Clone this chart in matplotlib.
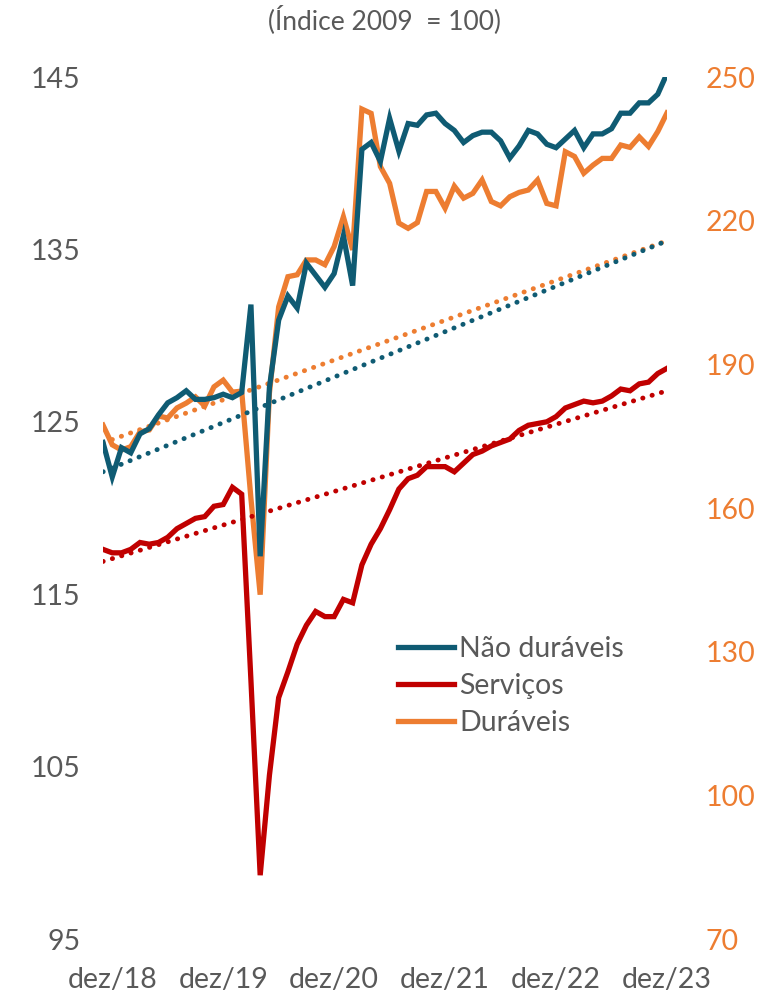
import numpy as np
import matplotlib
matplotlib.use("Agg")
import matplotlib.pyplot as plt
from matplotlib.lines import Line2D

plt.rcParams['font.family'] = ['Lato', 'DejaVu Sans']

# monthly index, nov/18 .. dez/23
nao_duraveis = [123.8, 121.8, 123.5, 123.2, 124.3, 124.6, 125.4, 126.1, 126.4, 126.8,
                126.3, 126.3, 126.4, 126.6, 126.4, 126.7, 131.8, 117.2, 127.0, 130.9,
                132.3, 131.6, 134.2, 133.5, 132.8, 133.6, 135.8, 132.9, 140.8, 141.2,
                140.1, 142.6, 140.7, 142.3, 142.2, 142.8, 142.9, 142.3, 141.9, 141.2,
                141.6, 141.8, 141.8, 141.3, 140.3, 141.0, 141.9, 141.7, 141.1, 140.9,
                141.4, 141.9, 140.9, 141.7, 141.7, 142.0, 142.9, 142.9, 143.5, 143.5,
                144.0, 145.2]
servicos = [117.6, 117.4, 117.4, 117.6, 118.0, 117.9, 118.0, 118.3, 118.8, 119.1,
            119.4, 119.5, 120.1, 120.2, 121.2, 120.8, 110.0, 98.7, 104.5, 109.0,
            110.5, 112.1, 113.2, 114.0, 113.7, 113.7, 114.7, 114.5, 116.7, 117.9,
            118.8, 119.9, 121.1, 121.7, 121.9, 122.4, 122.4, 122.4, 122.1, 122.6,
            123.1, 123.3, 123.6, 123.8, 124.0, 124.5, 124.8, 124.9, 125.0, 125.3,
            125.8, 126.0, 126.2, 126.1, 126.2, 126.5, 126.9, 126.8, 127.2, 127.3,
            127.8, 128.1]
duraveis = [177.3, 173.2, 172.1, 172.8, 175.9, 176.3, 179.2, 178.8, 180.9, 181.9,
            183.2, 181.3, 185.3, 186.7, 184.2, 184.4, 162.0, 141.9, 184.0, 202.0,
            208.3, 208.7, 211.8, 211.8, 210.8, 214.6, 220.8, 213.9, 243.3, 242.4,
            231.3, 227.8, 219.5, 218.4, 219.6, 226.1, 226.1, 222.6, 227.2, 224.7,
            225.7, 228.5, 224.0, 223.1, 225.0, 225.9, 226.4, 228.5, 223.6, 223.1,
            234.4, 233.4, 229.9, 231.6, 233.0, 233.0, 235.8, 235.3, 237.5, 235.5,
            238.6, 242.5]

# linear trends (start, end)
trend_nd = [122.1, 135.5]
trend_serv = [116.9, 126.8]
trend_dur = [173.6, 215.8]

tick_pos = [1, 13, 25, 37, 49, 61]
tick_labels = ['dez/18', 'dez/19', 'dez/20', 'dez/21', 'dez/22', 'dez/23']

c_nd = '#0F5B73'
c_serv = '#C00000'
c_dur = '#ED7D31'
gray = '#595959'

x = np.arange(len(nao_duraveis))
xt = [x[0], x[-1]]

fig = plt.figure(figsize=(7.68, 9.94), dpi=100)
ax = fig.add_axes([103 / 768, 1 - 939 / 994, (667 - 103) / 768, (939 - 77) / 994])
ax2 = ax.twinx()

ax.plot(x, nao_duraveis, color=c_nd, lw=3.8, solid_joinstyle='miter', zorder=3)
ax.plot(x, servicos, color=c_serv, lw=3.8, solid_joinstyle='miter', zorder=3)
ax2.plot(x, duraveis, color=c_dur, lw=3.8, solid_joinstyle='miter', zorder=3)

dots = (0, (0.05, 1.95))
ax.plot(xt, trend_nd, color=c_nd, lw=3.5, ls=dots, dash_capstyle='round', zorder=2)
ax.plot(xt, trend_serv, color=c_serv, lw=3.5, ls=dots, dash_capstyle='round', zorder=2)
ax2.plot(xt, trend_dur, color=c_dur, lw=3.5, ls=dots, dash_capstyle='round', zorder=2)

ax.set_zorder(ax2.get_zorder() + 1)
ax.patch.set_visible(False)

ax.set_xlim(0, 61)
ax.set_ylim(95, 145)
ax2.set_ylim(70, 250)
ax.set_yticks([95, 105, 115, 125, 135, 145])
ax2.set_yticks([70, 100, 130, 160, 190, 220, 250])
ax.set_xticks(tick_pos)
ax.set_xticklabels(tick_labels)

for a in (ax, ax2):
    for s in a.spines.values():
        s.set_visible(False)
ax.tick_params(axis='y', length=0, pad=16, labelsize=20.5, labelcolor=gray)
ax.tick_params(axis='x', length=0, pad=20, labelsize=20.5, labelcolor=gray)
ax2.tick_params(axis='y', length=0, pad=28, labelsize=20.5, labelcolor=c_dur)
for lbl in ax2.get_yticklabels():
    lbl.set_ha('left')

fig.text(0.5, 1 - 20 / 994, '(Índice 2009  = 100)', ha='center', va='center',
         fontsize=19, color=gray)

handles = [Line2D([], [], color=c_nd, lw=3.8),
           Line2D([], [], color=c_serv, lw=3.8),
           Line2D([], [], color=c_dur, lw=3.8)]
ax.legend(handles, ['Não duráveis', 'Serviços', 'Duráveis'],
          loc='upper left', bbox_to_anchor=(398 / 768, 1 - 636 / 994),
          bbox_transform=fig.transFigure, frameon=False, fontsize=20.5,
          labelcolor=gray, handlelength=1.95, handletextpad=0.2,
          labelspacing=0.38, borderaxespad=0, borderpad=0)

fig.savefig('out.png', dpi=100)
